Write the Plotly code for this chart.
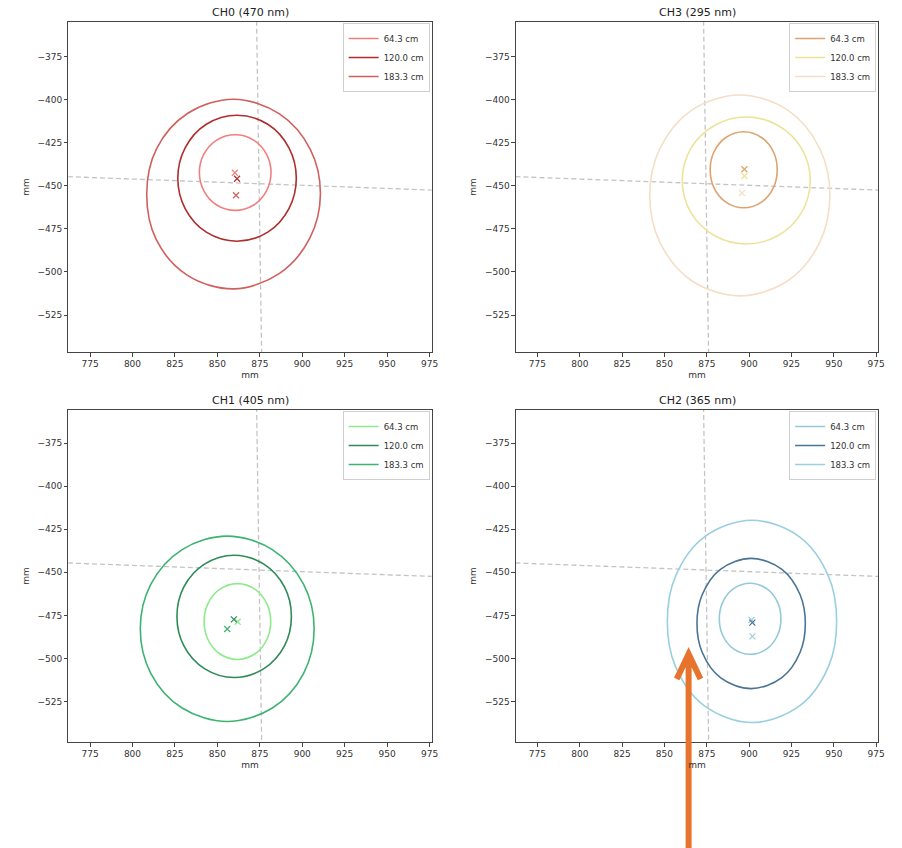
import numpy as np
import plotly.graph_objects as go

# ---------------- data ----------------
distances = ["64.3 cm", "120.0 cm", "183.3 cm"]
angles_deg = [0, 30, 60, 90, 120, 150, 180, 210, 240, 270, 300, 330]

# panel order: CH0, CH3, CH1, CH2
panel_titles = ["CH0 (470 nm)", "CH3 (295 nm)", "CH1 (405 nm)", "CH2 (365 nm)"]

# contour centres (mm) per panel, per distance
ch0_centers = [(860.5, -442.2), (861.6, -445.5), (859.7, -454.7)]
ch3_centers = [(896.8, -440.6), (898.3, -446.8), (894.5, -455.5)]
ch1_centers = [(861.8, -478.6), (859.9, -475.6), (855.8, -482.8)]
ch2_centers = [(900.6, -477.0), (901.2, -479.7), (901.7, -478.5)]

# contour radii (mm) at angles_deg
ch0_radii = [
    [21.1, 21.3, 21.8, 22.0, 21.8, 21.3, 21.1, 21.3, 21.8, 22.0, 21.8, 21.3],
    [34.9, 35.3, 36.2, 36.6, 36.2, 35.3, 34.9, 35.3, 36.2, 36.6, 36.2, 35.3],
    [51.0, 52.0, 53.8, 55.1, 54.2, 52.6, 51.3, 52.8, 54.6, 55.1, 53.4, 51.6],
]
ch3_radii = [
    [19.8, 20.4, 21.5, 22.1, 21.5, 20.4, 19.8, 20.4, 21.5, 22.1, 21.5, 20.4],
    [37.8, 37.6, 37.1, 36.9, 37.1, 37.6, 37.8, 37.6, 37.1, 36.9, 37.1, 37.6],
    [53.2, 54.5, 57.1, 58.4, 57.1, 54.5, 53.2, 54.5, 57.1, 58.4, 57.1, 54.5],
]
ch1_radii = [
    [19.6, 20.2, 21.4, 22.0, 21.4, 20.2, 19.6, 20.2, 21.4, 22.0, 21.4, 20.2],
    [33.7, 34.2, 35.0, 35.5, 35.0, 34.2, 33.7, 34.2, 35.0, 35.5, 35.0, 34.2],
    [51.2, 51.9, 53.1, 53.8, 53.1, 51.9, 51.2, 51.9, 53.1, 53.8, 53.1, 51.9],
]
ch2_radii = [
    [18.2, 18.8, 20.0, 20.6, 20.0, 18.8, 18.2, 18.8, 20.0, 20.6, 20.0, 18.8],
    [32.0, 33.4, 36.3, 37.8, 36.3, 33.4, 32.0, 33.4, 36.3, 37.8, 36.3, 33.4],
    [50.0, 52.2, 56.5, 58.7, 56.5, 52.2, 50.0, 52.2, 56.5, 58.7, 56.5, 52.2],
]

# beam-centre crosses (mm)
ch0_cross_x = [860.3, 861.6, 861.0]
ch0_cross_y = [-442.3, -445.8, -455.4]
ch3_cross_x = [897.2, 897.2, 895.8]
ch3_cross_y = [-440.3, -444.2, -454.1]
ch1_cross_x = [862.0, 859.7, 855.8]
ch1_cross_y = [-478.7, -477.3, -482.9]
ch2_cross_x = [901.4, 901.9, 901.9]
ch2_cross_y = [-477.6, -479.2, -487.2]

# reference (dashed) axes lines (mm)
ref_h_x = [762.0, 976.5]
ref_h_y = [-444.6, -452.4]
ref_v_x = [873.1, 876.1]
ref_v_y = [-354.0, -549.0]

x_tick_vals = [775, 800, 825, 850, 875, 900, 925, 950, 975]
y_tick_vals = [-375, -400, -425, -450, -475, -500, -525]

# ---------------- styles ----------------
ch0_colors = ["#F08080", "#AE2E2E", "#D0605E"]
ch3_colors = ["#DDA370", "#EDE39A", "#F5DEC6"]
ch1_colors = ["#8DEB8D", "#2E8B57", "#3CB371"]
ch2_colors = ["#93C9DA", "#4A7595", "#9ACFE0"]

W, H = 902, 848
FONT = "DejaVu Sans"


def fx(xp):
    return xp / W


def fy(yp):
    return (H - yp) / H


panels = [
    dict(title=panel_titles[0], centers=ch0_centers, radii=ch0_radii, cx=ch0_cross_x, cy=ch0_cross_y,
         colors=ch0_colors, xpx=(69, 435), ypx=(22, 352), yr=(-546.5, -354.7)),
    dict(title=panel_titles[1], centers=ch3_centers, radii=ch3_radii, cx=ch3_cross_x, cy=ch3_cross_y,
         colors=ch3_colors, xpx=(520, 885), ypx=(22, 352), yr=(-546.5, -354.7)),
    dict(title=panel_titles[2], centers=ch1_centers, radii=ch1_radii, cx=ch1_cross_x, cy=ch1_cross_y,
         colors=ch1_colors, xpx=(69, 435), ypx=(410, 742), yr=(-548.5, -355.8)),
    dict(title=panel_titles[3], centers=ch2_centers, radii=ch2_radii, cx=ch2_cross_x, cy=ch2_cross_y,
         colors=ch2_colors, xpx=(520, 885), ypx=(410, 742), yr=(-548.5, -355.8)),
]

fig = go.Figure()
theta = np.deg2rad(np.array(angles_deg + [angles_deg[0]], dtype=float))

annotations = []
for i, p in enumerate(panels):
    n = i + 1
    xa = "x" if n == 1 else f"x{n}"
    ya = "y" if n == 1 else f"y{n}"
    leg = "legend" if n == 1 else f"legend{n}"

    # dashed reference lines
    fig.add_trace(go.Scatter(x=ref_h_x, y=ref_h_y, mode="lines", xaxis=xa, yaxis=ya,
                             line=dict(color="#c4c4c4", width=1.3, dash="5px,3px"),
                             showlegend=False, hoverinfo="skip"))
    fig.add_trace(go.Scatter(x=ref_v_x, y=ref_v_y, mode="lines", xaxis=xa, yaxis=ya,
                             line=dict(color="#c4c4c4", width=1.3, dash="5px,3px"),
                             showlegend=False, hoverinfo="skip"))

    for k, name in enumerate(distances):
        c = p["colors"][k]
        r = np.array(p["radii"][k] + [p["radii"][k][0]])
        cxx, cyy = p["centers"][k]
        fig.add_trace(go.Scatter(x=cxx + r * np.cos(theta), y=cyy + r * np.sin(theta),
                                 mode="lines", line=dict(color=c, width=1.6, shape="spline", smoothing=1.0),
                                 name=name, legend=leg, xaxis=xa, yaxis=ya))
    for k, name in enumerate(distances):
        c = p["colors"][k]
        fig.add_trace(go.Scatter(x=[p["cx"][k]], y=[p["cy"][k]], mode="markers", xaxis=xa, yaxis=ya,
                                 marker=dict(symbol="x-thin", size=6, line=dict(width=1.2, color=c)),
                                 showlegend=False))

    x0, x1 = p["xpx"]
    y0, y1 = p["ypx"]
    axis_common = dict(showline=True, linecolor="#444", linewidth=1, mirror=True,
                       ticks="outside", ticklen=3.5, tickwidth=0.8, tickcolor="#444",
                       showgrid=False, zeroline=False,
                       tickfont=dict(family=FONT, size=9, color="#333"))
    fig.layout[("xaxis" if n == 1 else f"xaxis{n}")] = dict(
        domain=[fx(x0), fx(x1)], anchor=ya, range=[762.3, 976.2], tickvals=x_tick_vals,
        title=dict(text="mm", font=dict(family=FONT, size=9, color="#333"), standoff=3), **axis_common)
    fig.layout[("yaxis" if n == 1 else f"yaxis{n}")] = dict(
        domain=[fy(y1), fy(y0)], anchor=xa, range=list(p["yr"]), tickvals=y_tick_vals,
        title=dict(text="mm", font=dict(family=FONT, size=9, color="#333"), standoff=6), **axis_common)
    fig.layout[leg] = dict(x=fx(x1 - 2), y=fy(y0 + 1), xanchor="right", yanchor="top",
                           bgcolor="rgba(255,255,255,0.85)", bordercolor="#d0d0d0", borderwidth=1,
                           font=dict(family=FONT, size=8.5, color="#333"), itemwidth=30,
                           tracegroupgap=0)
    annotations.append(dict(text=p["title"], x=fx((x0 + x1) / 2), y=fy(y0 - 10),
                            xref="paper", yref="paper", showarrow=False, xanchor="center",
                            yanchor="middle", font=dict(family=FONT, size=11, color="#222")))


# orange pointer arrow (annotation overlay)
def pt(xp, yp):
    return f"{fx(xp):.4f},{fy(yp):.4f}"


arrow_path = (f"M {pt(694, 860)} L {pt(694, 657)} "
              f"M {pt(682, 679)} L {pt(694, 654)} L {pt(706, 679)}")

fig.update_layout(
    width=W, height=H, margin=dict(l=0, r=0, t=0, b=0),
    paper_bgcolor="white", plot_bgcolor="white",
    annotations=annotations,
    shapes=[dict(type="path", path=arrow_path, xref="paper", yref="paper",
                 line=dict(color="#E8732D", width=6))],
    font=dict(family=FONT),
)

fig.write_html("out.html", config={"displayModeBar": False},
               post_script="document.body.style.margin='0px';document.body.style.overflow='hidden';")
